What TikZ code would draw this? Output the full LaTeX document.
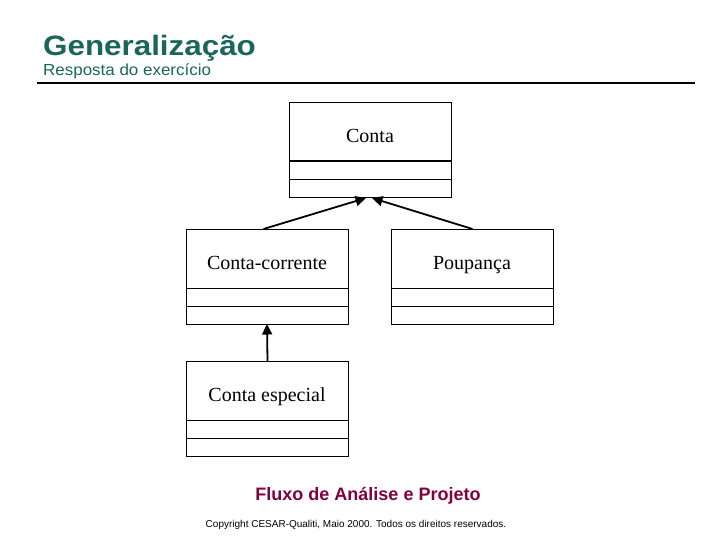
\documentclass[tikz,border=0pt]{standalone}
\usepackage{fontspec}
\setmainfont{Liberation Serif}
\newfontfamily\arialf{Liberation Sans}
\newfontfamily\arialtitle{Liberation Sans}[FakeStretch=1.12]
\newfontfamily\arialsub{Liberation Sans}[FakeStretch=1.06]
\usetikzlibrary{arrows.meta}
\definecolor{titlegreen}{RGB}{26,102,92}
\definecolor{maroon}{RGB}{128,0,64}
\tikzset{
  cls/.style={draw=black, line width=1pt, minimum width=162pt, minimum height=59pt, inner sep=0pt},
  clsname/.style={anchor=base, inner sep=0pt, font=\fontsize{20}{22}\selectfont},
  gen/.style={line width=1.8pt, -{Triangle[length=10.5pt,width=10pt]}},
}
\begin{document}
\begin{tikzpicture}[x=1pt,y=-1pt]
\useasboundingbox (0,0) rectangle (720,540);
% title
\node[anchor=base west, inner sep=0pt, text=titlegreen, font=\arialtitle\bfseries\fontsize{28}{30}\selectfont] (title) at (43,56) {Generaliza\c{c}\~ao};
\node[anchor=base west, inner sep=0pt, text=titlegreen, font=\arialsub\fontsize{16}{18}\selectfont] (sub) at (43,75.5) {Resposta do exerc\'{\i}cio};
\coordinate (ruleL) at (37,83);
\coordinate (ruleR) at (695,83);
\draw[line width=2pt] (ruleL) -- (ruleR);
% classes
\node[cls, anchor=north west] (conta) at (289,102) {};
\node[clsname] (contaT) at (370,143) {Conta};
\draw[line width=1pt] (289,161) rectangle (451,180) (289,180) rectangle (451,198);
\node[cls, anchor=north west] (cc) at (186,229) {};
\node[clsname] (ccT) at (267,269) {Conta-corrente};
\draw[line width=1pt] (186,288) rectangle (348,306) (186,306) rectangle (348,324);
\node[cls, anchor=north west] (poup) at (391,229) {};
\node[clsname] (poupT) at (472,269) {Poupan\c{c}a};
\draw[line width=1pt] (391,288) rectangle (553,306) (391,306) rectangle (553,324);
\node[cls, anchor=north west] (ce) at (186,361) {};
\node[clsname] (ceT) at (267,401) {Conta especial};
\draw[line width=1pt] (186,420) rectangle (348,438) (186,438) rectangle (348,456);
% connectors
\coordinate (contaA) at (366,198);
\coordinate (contaB) at (372,198);
\coordinate (ccB) at (267,324);
\draw[gen] ([xshift=-4pt]cc.north) -- (contaA);
\draw[gen] (poup.north) -- (contaB);
\draw[gen] (ce.north) -- (ccB);
% footer
\node[text=maroon, font=\arialf\bfseries\fontsize{18}{20}\selectfont, inner sep=0pt] (foot) at (368,496) {Fluxo de An\'alise e Projeto};
\node[font=\arialf\fontsize{10}{11}\selectfont, inner sep=0pt] (copy) at (356,525) {Copyright CESAR-Qualiti, Maio 2000. Todos os direitos reservados.};
\end{tikzpicture}
\end{document}
